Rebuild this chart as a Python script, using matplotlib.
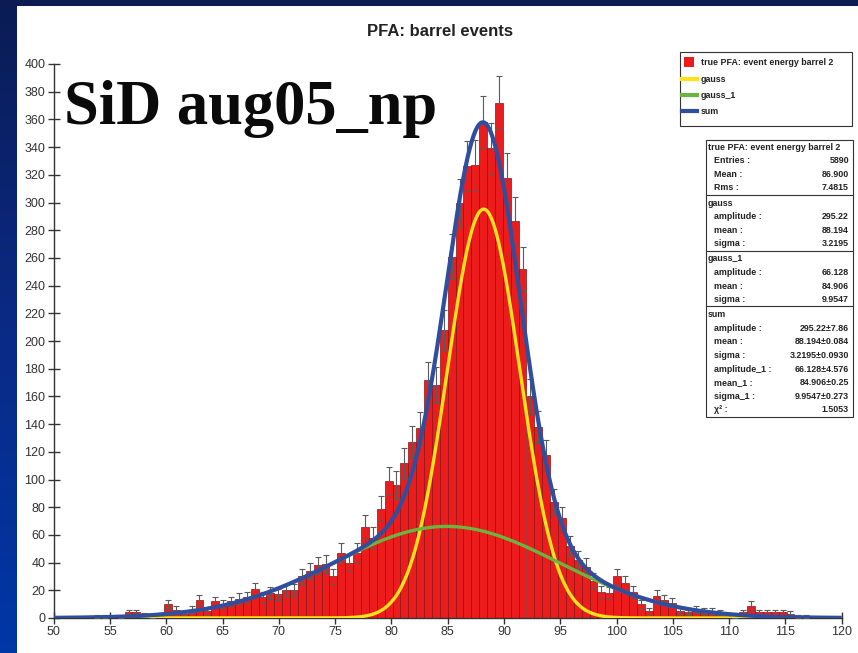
import numpy as np
import matplotlib
matplotlib.use('Agg')
import matplotlib.pyplot as plt
from matplotlib.patches import Rectangle
from matplotlib.lines import Line2D
from matplotlib.colors import LinearSegmentedColormap

# ---------------- data ----------------
bin_lo, bin_hi, n_bins = 50.0, 120.0, 100
counts = [0, 0, 0, 0, 0, 1, 1, 0, 1, 4,
          4, 2, 1, 2, 10, 6, 3, 6, 13, 5,
          12, 10, 12, 14, 15, 21, 15, 18, 17, 20,
          20, 30, 34, 38, 39, 30, 47, 40, 47, 66,
          58, 79, 99, 96, 112, 127, 137, 172, 168, 208,
          261, 300, 326, 327, 358, 339, 372, 318, 287, 252,
          160, 138, 118, 84, 72, 52, 42, 37, 27, 19,
          18, 30, 25, 19, 10, 5, 16, 13, 11, 5,
          4, 6, 5, 5, 4, 2, 1, 4, 9, 4,
          4, 4, 4, 3, 1, 1, 0, 0, 0, 0]

gauss_amp, gauss_mean, gauss_sigma = 295.22, 88.194, 3.2195
gauss1_amp, gauss1_mean, gauss1_sigma = 66.128, 84.906, 9.9547

xticks = list(range(50, 121, 5))
yticks = list(range(0, 401, 20))

title = "PFA: barrel events"
overlay_label = "SiD aug05_np"
legend_labels = ["true PFA: event energy barrel 2", "gauss", "gauss_1", "sum"]

stat_headers = ["true PFA: event energy barrel 2", "gauss", "gauss_1", "sum"]
stat_names = [["Entries :", "Mean :", "Rms :"],
              ["amplitude :", "mean :", "sigma :"],
              ["amplitude :", "mean :", "sigma :"],
              ["amplitude :", "mean :", "sigma :", "amplitude_1 :", "mean_1 :", "sigma_1 :", "χ² :"]]
stat_values = [["5890", "86.900", "7.4815"],
               ["295.22", "88.194", "3.2195"],
               ["66.128", "84.906", "9.9547"],
               ["295.22±7.86", "88.194±0.084", "3.2195±0.0930", "66.128±4.576",
                "84.906±0.25", "9.9547±0.273", "1.5053"]]

# ---------------- styles ----------------
RED = '#ec1c1c'
YELLOW = '#ffe21a'
GREEN = '#6cb33f'
BLUE = '#2f4f9e'
AX = '#333333'
W, H = 858, 653

fig = plt.figure(figsize=(W / 100, H / 100), dpi=100)
fig.patch.set_facecolor('white')

def fx(px):
    return px / W

def fy(py):
    return 1 - py / H

# background strips (slide frame)
bg = fig.add_axes([0, 0, 1, 1])
bg.set_xlim(0, W)
bg.set_ylim(H, 0)
bg.axis('off')
grad = np.linspace(0, 1, 256).reshape(-1, 1)
cmap = LinearSegmentedColormap.from_list('slide', ['#0b1c55', '#0a2a85', '#0037a6'])
bg.imshow(grad, extent=[0, 17, H, 0], cmap=cmap, aspect='auto', origin='upper')
bg.add_patch(Rectangle((0, 0), W, 6, color='#0c1c52', lw=0))

# ---------------- main axes ----------------
ax = fig.add_axes([fx(53.7), fy(618), fx(841.7) - fx(53.7), fy(64) - fy(618)])
ax.set_facecolor('none')
edges = np.linspace(bin_lo, bin_hi, n_bins + 1)
width = edges[1] - edges[0]
cnt = np.array(counts, dtype=float)
ax.bar(edges[:-1], cnt, width=width, align='edge', color=RED,
       edgecolor='#8a1414', linewidth=0.5, zorder=2)
centers = edges[:-1] + width / 2
mask = cnt > 0
ax.errorbar(centers[mask], cnt[mask], yerr=np.sqrt(cnt[mask]), fmt='none',
            ecolor='#5a5a5a', elinewidth=0.8, capsize=2.5, capthick=0.8, zorder=3)

xs = np.linspace(bin_lo, bin_hi, 1400)
g0 = gauss_amp * np.exp(-0.5 * ((xs - gauss_mean) / gauss_sigma) ** 2)
g1 = gauss1_amp * np.exp(-0.5 * ((xs - gauss1_mean) / gauss1_sigma) ** 2)
ax.plot(xs, g0, color=YELLOW, lw=2.4, zorder=4, solid_capstyle='butt')
ax.plot(xs, g1, color=GREEN, lw=2.4, zorder=5, solid_capstyle='butt')
ax.plot(xs, g0 + g1, color=BLUE, lw=3.0, zorder=6, solid_capstyle='butt')

ax.set_xlim(bin_lo, bin_hi)
ax.set_ylim(0, 400)
ax.set_xticks(xticks)
ax.set_yticks(yticks)
for s in ['top', 'right']:
    ax.spines[s].set_visible(False)
for s in ['left', 'bottom']:
    ax.spines[s].set_color(AX)
    ax.spines[s].set_linewidth(1.0)
ax.tick_params(direction='inout', length=8, width=1, color=AX, labelsize=9,
               labelcolor='#333333', pad=2)
for lab in ax.get_xticklabels() + ax.get_yticklabels():
    lab.set_family('Liberation Sans')

fig.text(fx(440), fy(31), title, ha='center', va='center', fontsize=12,
         fontweight='bold', family='Liberation Sans', color='#222222')
fig.text(fx(64), fy(124), overlay_label, ha='left', va='baseline', fontsize=45,
         fontweight='bold', family='Liberation Serif', color='#0a0a0a')

# ---------------- legend + stats boxes ----------------
ov = fig.add_axes([0, 0, 1, 1])
ov.set_xlim(0, W)
ov.set_ylim(H, 0)
ov.axis('off')
fs = 6.4
TXT = dict(fontsize=fs, fontweight='bold', family='Liberation Sans',
           va='baseline', color='#222222')
BOFF = 3.2  # baseline offset (px) below row centre
ov.add_patch(Rectangle((680, 52), 172, 74, facecolor='white', edgecolor=AX, lw=0.8))
ov.add_patch(Rectangle((684, 57), 10, 10, facecolor=RED, edgecolor='none'))
leg_colors = [None, YELLOW, GREEN, BLUE]
leg_y = [62, 79, 95, 111]
for lab, col, yy in zip(legend_labels, leg_colors, leg_y):
    if col is not None:
        ov.add_line(Line2D([682, 697], [yy, yy], color=col, lw=3))
    ov.text(701, yy + BOFF, lab, ha='left', **TXT)

box_l, box_r, box_t = 706, 853, 140
step = 13.6
y = box_t + 6.5
seps = []
for i, (hdr, names, vals) in enumerate(zip(stat_headers, stat_names, stat_values)):
    ov.text(box_l + 2, y + BOFF, hdr, ha='left', **TXT)
    y += step
    for n, v in zip(names, vals):
        ov.text(box_l + 8, y + BOFF, n, ha='left', **TXT)
        ov.text(box_r - 4, y + BOFF, v, ha='right', **TXT)
        y += step
    if i < len(stat_headers) - 1:
        sep = y - step + 7.5
        seps.append(sep)
        y = sep + 7.5
box_b = y - step + 7.5
ov.add_patch(Rectangle((box_l, box_t), box_r - box_l, box_b - box_t,
                       facecolor='none', edgecolor=AX, lw=0.8))
for s in seps:
    ov.add_line(Line2D([box_l, box_r], [s, s], color=AX, lw=0.8))

fig.savefig('out.png', dpi=100)
